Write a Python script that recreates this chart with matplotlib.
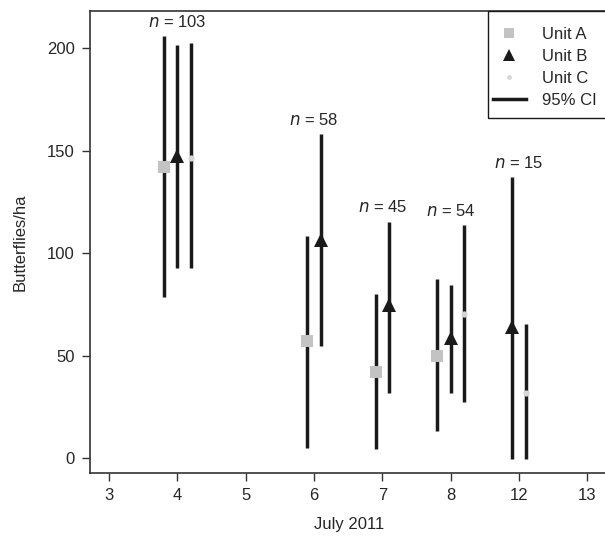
import numpy as np
import matplotlib
matplotlib.use("Agg")
import matplotlib.pyplot as plt
from matplotlib.lines import Line2D
from matplotlib.patches import Rectangle

# July 2011 survey dates (categorical axis)
dates = ["3", "4", "5", "6", "7", "8", "12", "13"]

# estimates and 95% CI per unit, one value per survey date (nan = no survey)
nan = np.nan
unit_a = [nan, 141.8, nan, 57.2, 42.0, 50.0, nan, nan]
unit_a_lo = [nan, 78.8, nan, 5.3, 4.5, 13.5, nan, nan]
unit_a_hi = [nan, 205.6, nan, 108.4, 80.0, 87.3, nan, nan]

unit_b = [nan, 147.5, nan, 106.5, 74.8, 58.5, 64.2, nan]
unit_b_lo = [nan, 93.0, nan, 54.8, 31.7, 31.7, -0.3, nan]
unit_b_hi = [nan, 201.5, nan, 158.0, 115.4, 84.5, 137.0, nan]

unit_c = [nan, 146.6, nan, nan, nan, 70.5, 31.7, nan]
unit_c_lo = [nan, 92.8, nan, nan, nan, 27.6, -0.3, nan]
unit_c_hi = [nan, 202.4, nan, nan, nan, 113.5, 65.5, nan]

n_labels = ["103", "58", "45", "54", "15"]
n_pos = [1, 3, 4, 5, 6]
n_y = [212.5, 165.0, 122.7, 120.8, 143.9]

plt.rcParams["font.family"] = ["Liberation Sans", "DejaVu Sans"]
txt_col = "#262626"
fs = 12

fig = plt.figure(figsize=(6.05, 5.39), dpi=100)
ax = fig.add_axes([0.1488, 0.1224, 1.0045 - 0.1488, 0.9796 - 0.1224])

x = np.arange(len(dates))
lc = "#1a1a1a"
lw = 2.5
series = [
    (unit_a, unit_a_lo, unit_a_hi, "s", "#c3c3c3", 9),
    (unit_b, unit_b_lo, unit_b_hi, "^", "#1a1a1a", 10),
    (unit_c, unit_c_lo, unit_c_hi, "o", "#d6d6d6", 4.5),
]

# units side by side within each date: +-0.1 for two, -0.2/0/0.2 for three
present = np.array([~np.isnan(np.array(s[0])) for s in series])
offsets = np.full(present.shape, nan)
for j in range(len(dates)):
    idx = np.where(present[:, j])[0]
    k = len(idx)
    if k:
        offsets[idx, j] = (np.arange(k) - (k - 1) / 2) * 0.2

for i, (val, lo, hi, mk, col, ms) in enumerate(series):
    val = np.array(val); lo = np.array(lo); hi = np.array(hi)
    ok = present[i]
    xx = x[ok] + offsets[i, ok]
    ax.vlines(xx, lo[ok], hi[ok], color=lc, lw=lw, zorder=2)
    ax.plot(xx, val[ok], linestyle="none", marker=mk, color=col,
            markersize=ms, markeredgewidth=0, zorder=3)

for p, lab, yy in zip(n_pos, n_labels, n_y):
    ax.text(p, yy, "$n$ = " + lab, ha="center", va="center", fontsize=fs,
            color=txt_col)

ax.set_xlim(-0.28, 7.3)
ax.set_ylim(-7.1, 218)
ax.set_xticks(x)
ax.set_xticklabels(dates)
ax.set_yticks([0, 50, 100, 150, 200])
ax.tick_params(length=6, width=1, color="#333333", labelsize=fs,
               labelcolor=txt_col, pad=5)
for s in ax.spines.values():
    s.set_color("#333333")
    s.set_linewidth(1.2)

ax.set_xlabel("July 2011", fontsize=fs, color=txt_col, labelpad=10)
ax.set_ylabel("Butterflies/ha", fontsize=fs, color=txt_col, labelpad=14)

# legend box runs past the right edge of the figure
fig.patches.append(Rectangle((487.7 / 605, 1 - 117.7 / 539), 0.3, (117.7 - 11) / 539,
                             transform=fig.transFigure, fill=False,
                             edgecolor="#1a1a1a", lw=1.0, zorder=5))
handles = [
    Line2D([], [], linestyle="none", marker="s", color="#c3c3c3", markersize=7, markeredgewidth=0),
    Line2D([], [], linestyle="none", marker="^", color="#1a1a1a", markersize=8, markeredgewidth=0),
    Line2D([], [], linestyle="none", marker="o", color="#d6d6d6", markersize=3.5, markeredgewidth=0),
    Line2D([], [], color=lc, lw=lw),
]
leg = fig.legend(handles, ["Unit A", "Unit B", "Unit C", "95% CI"],
                 loc="upper left", bbox_to_anchor=(487.7 / 605, 1 - 22 / 539),
                 fontsize=fs, frameon=False, borderpad=0.3,
                 labelspacing=0.42, handlelength=2.0, handletextpad=0.95,
                 borderaxespad=0)
for t in leg.get_texts():
    t.set_color(txt_col)

fig.savefig("out.png", dpi=100)
